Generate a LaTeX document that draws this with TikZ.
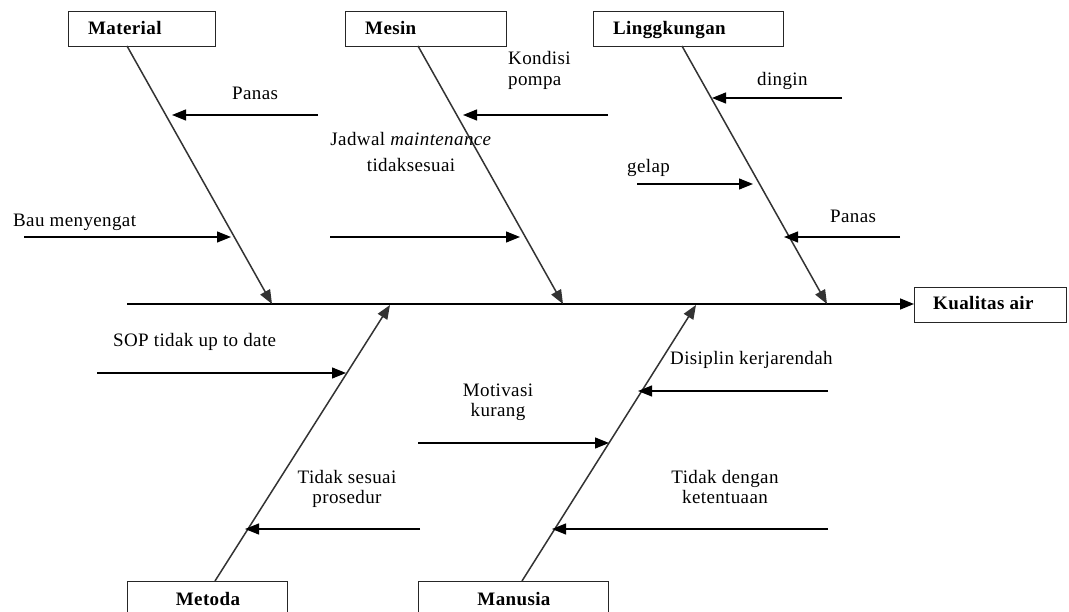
\documentclass[tikz,border=0pt]{standalone}
\usepackage{fontspec}
\setmainfont[LetterSpace=2]{Liberation Serif}
\usetikzlibrary{arrows.meta}
\begin{document}
\begin{tikzpicture}[x=1pt,y=-1pt,
  box/.style={draw=black!85, line width=1.3pt, minimum height=35pt, inner sep=0pt, anchor=north west},
  tip/.style={-{Triangle[length=14pt,width=11pt]}},
  bone/.style={draw=black!80, line width=1.5pt, tip},
  sub/.style={draw=black, line width=1.2pt, tip},
  lbl/.style={font=\fontsize{19}{20}\selectfont, inner sep=0pt},
  hdr/.style={font=\fontsize{19}{20}\selectfont\bfseries, inner sep=0pt}]
\useasboundingbox (0,0) rectangle (1069,612);
\clip (0,0) rectangle (1069,612);
\fill[white] (0,0) rectangle (1069,612);

% category boxes
\node[box, minimum width=147pt] (mat) at (68,11) {};
\node[hdr, anchor=base west] (matT) at (88,35) {Material};
\node[box, minimum width=161pt] (mes) at (345,11) {};
\node[hdr, anchor=base west] (mesT) at (365,35) {Mesin};
\node[box, minimum width=190pt] (lin) at (593,11) {};
\node[hdr, anchor=base west] (linT) at (613,35) {Linggkungan};
\node[box, minimum width=152pt] (kua) at (914,287) {};
\node[hdr, anchor=base west] (kuaT) at (933,310) {Kualitas air};
\node[box, minimum width=160pt, minimum height=45pt] (met) at (127,581) {};
\node[hdr, anchor=base] (metT) at (208,605) {Metoda};
\node[box, minimum width=190pt, minimum height=45pt] (man) at (418,581) {};
\node[hdr, anchor=base] (manT) at (514,605) {Manusia};

% spine
\coordinate (sp0) at (127,304);
\draw[bone, draw=black] (sp0) -- (kua.west |- sp0);

% bones
\coordinate (b1s) at (127,46);  \coordinate (b1e) at (272,304);
\coordinate (b2s) at (418,46);  \coordinate (b2e) at (563,304);
\coordinate (b3s) at (682,46);  \coordinate (b3e) at (827,304);
\coordinate (b4s) at (215,581); \coordinate (b4e) at (390,305);
\coordinate (b5s) at (522,581); \coordinate (b5e) at (696,305);
\draw[bone] (b1s) -- (b1e);
\draw[bone] (b2s) -- (b2e);
\draw[bone] (b3s) -- (b3e);
\draw[bone] (b4s) -- (b4e);
\draw[bone] (b5s) -- (b5e);

% sub causes - Material
\coordinate (a1s) at (318,115); \coordinate (a1e) at (172,115);
\draw[sub] (a1s) -- (a1e);
\node[lbl, anchor=base west] (l1) at (232,100) {Panas};
\coordinate (a2s) at (24,237); \coordinate (a2e) at (231,237);
\draw[sub] (a2s) -- (a2e);
\node[lbl, anchor=base west] (l2) at (13,227) {Bau menyengat};

% Mesin
\coordinate (a3s) at (608,115); \coordinate (a3e) at (463,115);
\draw[sub] (a3s) -- (a3e);
\node[lbl, anchor=base west, align=left, font=\fontsize{19}{21}\selectfont] (l3) at (508,86) {Kondisi\\pompa};
\coordinate (a4s) at (330,237); \coordinate (a4e) at (520,237);
\draw[sub] (a4s) -- (a4e);
\node[lbl, anchor=base, align=center, font=\fontsize{19}{26}\selectfont] (l4) at (411,172) {Jadwal \textit{maintenance}\\tidaksesuai};

% Linggkungan
\coordinate (a5s) at (842,98); \coordinate (a5e) at (712,98);
\draw[sub] (a5s) -- (a5e);
\node[lbl, anchor=base west] (l5) at (757,86) {dingin};
\coordinate (a6s) at (637,184); \coordinate (a6e) at (753,184);
\draw[sub] (a6s) -- (a6e);
\node[lbl, anchor=base west] (l6) at (627,173) {gelap};
\coordinate (a7s) at (900,237); \coordinate (a7e) at (784,237);
\draw[sub] (a7s) -- (a7e);
\node[lbl, anchor=base west] (l7) at (830,223) {Panas};

% Metoda
\coordinate (a8s) at (97,373); \coordinate (a8e) at (346,373);
\draw[sub] (a8s) -- (a8e);
\node[lbl, anchor=base west] (l8) at (113,347) {SOP tidak up to date};
\coordinate (a9s) at (420,529); \coordinate (a9e) at (245,529);
\draw[sub] (a9s) -- (a9e);
\node[lbl, anchor=base, align=center] (l9) at (347,503) {Tidak sesuai\\prosedur};

% Manusia
\coordinate (a10s) at (828,391); \coordinate (a10e) at (638,391);
\draw[sub] (a10s) -- (a10e);
\node[lbl, anchor=base west] (l10) at (670,365) {Disiplin kerjarendah};
\coordinate (a11s) at (418,443); \coordinate (a11e) at (609,443);
\draw[sub] (a11s) -- (a11e);
\node[lbl, anchor=base, align=center] (l11) at (498,417) {Motivasi\\kurang};
\coordinate (a12s) at (828,529); \coordinate (a12e) at (552,529);
\draw[sub] (a12s) -- (a12e);
\node[lbl, anchor=base, align=center] (l12) at (725,503) {Tidak dengan\\ketentuaan};
\end{tikzpicture}
\end{document}
